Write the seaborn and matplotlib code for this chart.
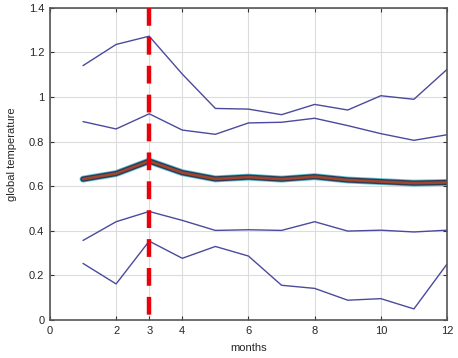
import matplotlib
matplotlib.use("Agg")
import matplotlib.pyplot as plt
import seaborn as sns
import pandas as pd
import numpy as np

months = [1, 2, 3, 4, 5, 6, 7, 8, 9, 10, 11, 12]
upper2 = [1.141, 1.236, 1.273, 1.103, 0.949, 0.946, 0.921, 0.967, 0.942, 1.006, 0.990, 1.124]
upper1 = [0.890, 0.857, 0.925, 0.852, 0.833, 0.884, 0.887, 0.905, 0.872, 0.836, 0.806, 0.831]
mean_t = [0.632, 0.657, 0.713, 0.661, 0.633, 0.641, 0.632, 0.643, 0.628, 0.621, 0.614, 0.617]
lower1 = [0.357, 0.441, 0.487, 0.447, 0.402, 0.405, 0.402, 0.441, 0.399, 0.403, 0.395, 0.403]
lower2 = [0.254, 0.162, 0.354, 0.277, 0.330, 0.287, 0.156, 0.142, 0.089, 0.096, 0.050, 0.251]
marker_month = 3
xticks = [0, 2, 3, 4, 6, 8, 10, 12]
yticks = [0, 0.2, 0.4, 0.6, 0.8, 1.0, 1.2, 1.4]
ytick_labels = ["0", "0.2", "0.4", "0.6", "0.8", "1", "1.2", "1.4"]

sns.set_style("white")
plt.rcParams['font.family'] = ['Liberation Sans', 'DejaVu Sans']

fig = plt.figure(figsize=(4.58, 3.58), dpi=100)
ax = fig.add_axes([0.109, 0.106, 0.867, 0.872])

band_color = "#4b4a9c"
for name, vals in [("u2", upper2), ("u1", upper1), ("l1", lower1), ("l2", lower2)]:
    df = pd.DataFrame({"month": months, "temp": vals})
    sns.lineplot(data=df, x="month", y="temp", ax=ax, color=band_color, lw=1.0)

dfm = pd.DataFrame({"month": months, "temp": mean_t})
sns.lineplot(data=dfm, x="month", y="temp", ax=ax, color="#5fc4d8", lw=5.0)
sns.lineplot(data=dfm, x="month", y="temp", ax=ax, color="#2e3b55", lw=3.8)
sns.lineplot(data=dfm, x="month", y="temp", ax=ax, color="#a3452c", lw=1.8)

ax.axvline(marker_month, ymin=1, ymax=0, color="#e8000b", lw=3.2,
           dashes=(4.0, 2.5), zorder=5)

ax.set_xlim(0, 12)
ax.set_ylim(0, 1.4)
ax.set_xticks(xticks)
ax.set_xticklabels([str(t) for t in xticks])
ax.set_yticks(yticks)
ax.set_yticklabels(ytick_labels)
ax.grid(True, color="#dcdcdc", lw=0.8)
ax.set_axisbelow(True)
ax.tick_params(direction="in", length=3, width=0.8, color="#333333", labelsize=8,
               top=True, right=True, bottom=True, left=True, pad=4)
for s in ax.spines.values():
    s.set_color("#555555")
    s.set_linewidth(1.2)
    s.set_visible(True)
ax.set_xlabel("months", fontsize=8)
ax.set_ylabel("global temperature", fontsize=8)
ax.xaxis.set_label_coords(0.5, -0.075)
ax.yaxis.set_label_coords(-0.083, 0.53)

fig.savefig("out.png", dpi=100)
